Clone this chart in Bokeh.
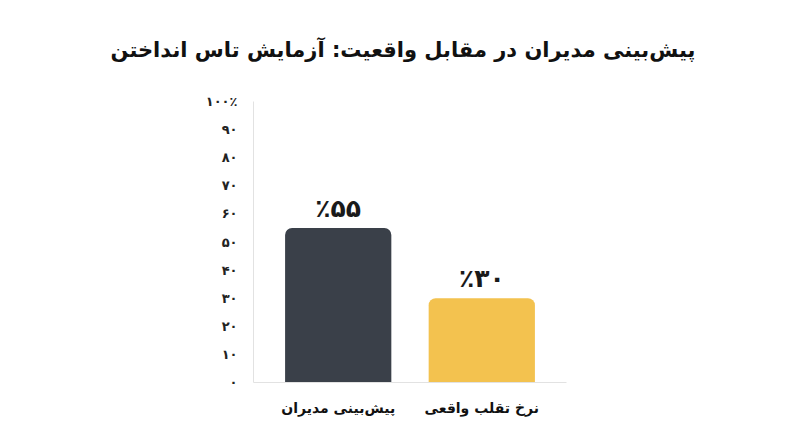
from bokeh.plotting import figure
from bokeh.models import FactorRange, Range1d, FixedTicker, ColumnDataSource, Title
from bokeh.core.properties import value
from bokeh.embed import file_html
from bokeh.resources import INLINE

# ---- data ----
title_text = "پیش‌بینی مدیران در مقابل واقعیت: آزمایش تاس انداختن"
categories = ["پیش‌بینی مدیران", "نرخ تقلب واقعی"]
values = [55, 30]
value_labels = ["٪۵۵", "٪۳۰"]
bar_colors = ["#3a4049", "#f3c24f"]
y_ticks = [0, 10, 20, 30, 40, 50, 60, 70, 80, 90, 100]
y_tick_labels = ["۰", "۱۰", "۲۰", "۳۰", "۴۰", "۵۰", "۶۰", "۷۰", "۸۰", "۹۰", "۱۰۰٪"]

FONT = "DejaVu Sans"

source = ColumnDataSource(dict(cat=categories, val=values, lab=value_labels, color=bar_colors))

p = figure(
    width=800, height=447,
    x_range=FactorRange(*categories, range_padding=0.09, range_padding_units="percent"),
    y_range=Range1d(0, 100),
    output_backend="svg", toolbar_location=None,
    min_border_left=253, min_border_right=234, min_border_top=101, min_border_bottom=65,
    background_fill_color="white", border_fill_color="white",
    outline_line_color=None,
)

p.title = Title(text=title_text, align="left", offset=-143, vertical_align="top",
                standoff=75, text_font=FONT, text_font_size="21px",
                text_font_style="bold", text_color="#111111")

p.vbar(x="cat", top="val", width=0.74, source=source, fill_color="color",
       line_color=None, border_radius=[7, 7, 0, 0])

p.text(x="cat", y="val", text="lab", source=source, text_align="center",
       text_baseline="bottom", y_offset=-5, text_font=value(FONT),
       text_font_size="25px", text_font_style="bold", text_color="#1a1a1a")

p.xgrid.visible = False
p.ygrid.visible = False

p.yaxis.ticker = FixedTicker(ticks=y_ticks)
p.yaxis.major_label_overrides = {t_: l for t_, l in zip(y_ticks, y_tick_labels)}
p.yaxis.axis_line_color = "#e2e2e2"
p.yaxis.major_tick_line_color = None
p.yaxis.minor_tick_line_color = None
p.yaxis.major_label_standoff = 10
p.yaxis.major_label_text_font = FONT
p.yaxis.major_label_text_font_size = "13px"
p.yaxis.major_label_text_font_style = "bold"
p.yaxis.major_label_text_color = "#222222"

p.xaxis.axis_line_color = "#e2e2e2"
p.xaxis.major_tick_line_color = None
p.xaxis.minor_tick_line_color = None
p.xaxis.major_label_standoff = 11
p.xaxis.major_label_text_font = FONT
p.xaxis.major_label_text_font_size = "14px"
p.xaxis.major_label_text_font_style = "bold"
p.xaxis.major_label_text_color = "#111111"

open("out.html", "w").write(file_html(p, INLINE))
